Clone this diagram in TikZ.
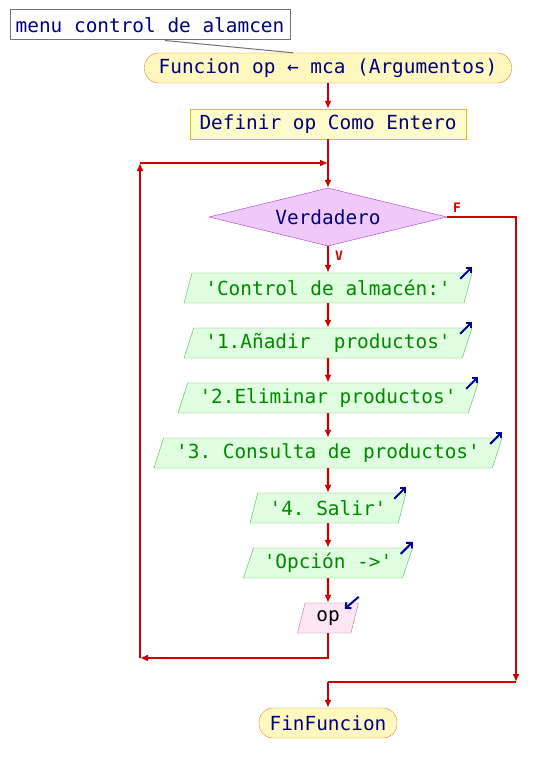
\documentclass[tikz,border=0pt]{standalone}
\usepackage{fontspec}
\setmonofont{DejaVu Sans Mono}
\usetikzlibrary{shapes.geometric,arrows.meta}
\definecolor{rojo}{HTML}{CC0000}
\definecolor{tinta}{HTML}{000080}
\definecolor{azul}{HTML}{000099}
\definecolor{verde}{HTML}{008800}
\definecolor{lila}{HTML}{F0C8FA}
\definecolor{lilaborde}{HTML}{A040C8}
\tikzset{>={Latex[length=8pt,width=7pt]}}
\tikzset{
  titulo/.style={draw=gray!90!black, line width=1pt, fill=white, text=tinta, minimum width=280pt, minimum height=30pt, inner sep=0pt},
  term/.style={rectangle, rounded corners=14pt, draw=orange!60!brown, fill=orange!20!yellow!25, text=tinta, minimum height=30pt, inner sep=0pt},
  proceso/.style={draw=yellow!60!olive, fill=yellow!20, text=tinta, minimum height=30pt, inner sep=0pt},
  decision/.style={diamond, aspect=4.1, draw=lilaborde, fill=lila, text=tinta, minimum width=238pt, minimum height=58pt, inner sep=0pt},
  salida/.style={trapezium, trapezium left angle=63, trapezium right angle=117, trapezium stretches body,
    draw=green!60!black!70, fill=green!12, text=verde, minimum height=30pt, inner sep=0pt},
  entrada/.style={salida, draw=magenta!60!black!70, fill=magenta!10, text=black},
  flujo/.style={draw=rojo, line width=2.2pt, ->},
  icono/.style={draw=azul, line width=2pt, -{Straight Barb[length=4pt,width=8pt]}},
  etiq/.style={text=rojo, font=\fontsize{13pt}{14pt}\selectfont\ttfamily\bfseries, inner sep=0pt}
}
\begin{document}
\begin{tikzpicture}[x=1pt, y=-1pt, font=\fontsize{19.4pt}{23pt}\selectfont\ttfamily]
  \useasboundingbox (0,0) rectangle (536,773);
  \node[titulo] (title) at (150,25) {menu control de alamcen};
  \node[term, minimum width=367pt] (inicio) at (328,68) {Funcion op ← mca (Argumentos)};
  \node[proceso, minimum width=276pt] (def) at (328,124) {Definir op Como Entero};
  \node[decision] (cond) at (328,217) {Verdadero};
  \node[salida, minimum width=288pt] (o1) at (328,288) {'Control de almacén:'};
  \node[salida, minimum width=288pt] (o2) at (328,343) {'1.Añadir\ \ productos'};
  \node[salida, minimum width=300pt] (o3) at (328,398) {'2.Eliminar productos'};
  \node[salida, minimum width=348pt] (o4) at (328,453) {'3. Consulta de productos'};
  \node[salida, minimum width=156pt] (o5) at (328,508) {'4. Salir'};
  \node[salida, minimum width=169pt] (o6) at (328,563) {'Opción ->'};
  \node[entrada, minimum width=61pt] (leer) at (328,618) {op};
  \node[term, minimum width=138pt] (fin) at (328,723) {FinFuncion};
  \node[etiq] (lf) at (457,208) {F};
  \node[etiq] (lv) at (339,256) {V};
  \coordinate (lb) at (140,658);
  \coordinate (lt) at (140,163);
  \coordinate (jn) at (328,163);
  \coordinate (fr) at (516,682);
  \coordinate (fj) at (328,682);

  \draw[gray!90!black, line width=1pt] ([xshift=15pt]title.south) -- ([xshift=-35pt]inicio.north);
  \draw[flujo] (inicio) -- (def);
  \draw[flujo] (def) -- (cond);
  \draw[flujo] (cond) -- (o1);
  \draw[flujo] (o1) -- (o2);
  \draw[flujo] (o2) -- (o3);
  \draw[flujo] (o3) -- (o4);
  \draw[flujo] (o4) -- (o5);
  \draw[flujo] (o5) -- (o6);
  \draw[flujo] (o6) -- (leer);
  % ciclo mientras
  \draw[flujo] (leer.south) |- (lb);
  \draw[flujo] (lb) -- (lt);
  \draw[flujo] (lt) -- (jn);
  % salida por falso
  \draw[flujo] (cond.east) -| (fr);
  \draw[flujo, -] (fr) -- (fj);
  \draw[flujo] (fj) -- (fin);
  % flechas de escribir / leer
  \foreach \n in {o1,o2,o3,o4,o5,o6}
    \draw[icono] ([shift={(-12,6)}]\n.top right corner) -- ([shift={(0,-6)}]\n.top right corner);
  \draw[icono] ([shift={(0,-6)}]leer.top right corner) -- ([shift={(-14,6)}]leer.top right corner);
\end{tikzpicture}
\end{document}
